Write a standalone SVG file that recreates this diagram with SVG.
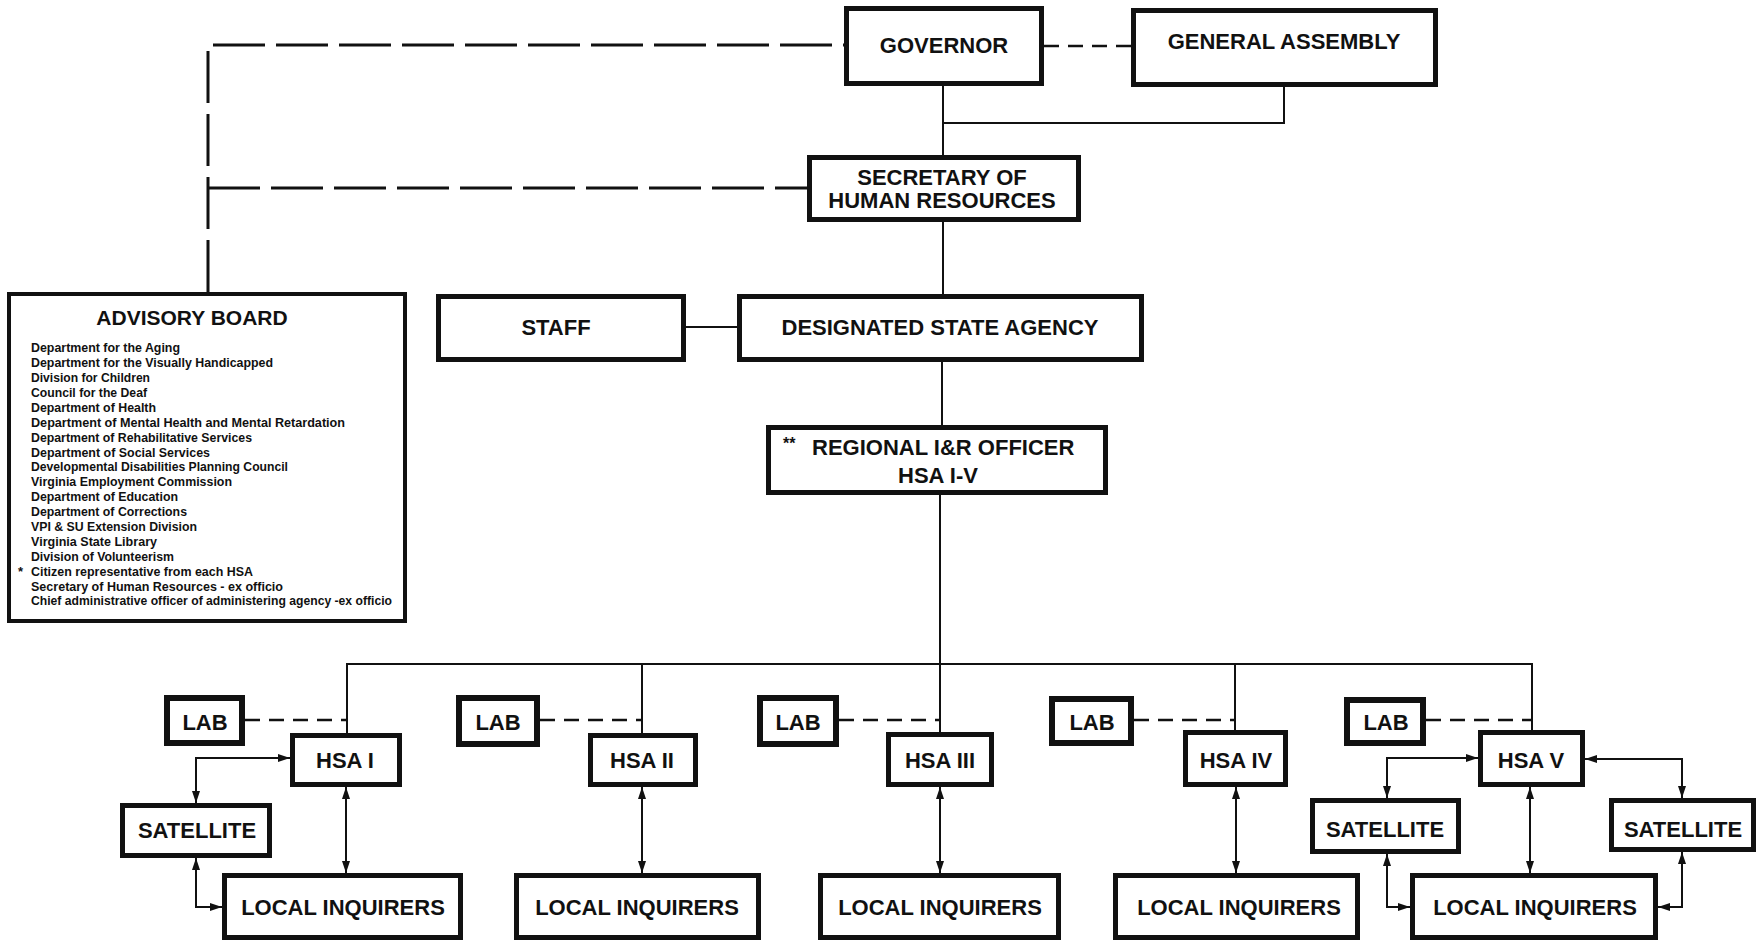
<svg xmlns="http://www.w3.org/2000/svg" width="1758" height="942" viewBox="0 0 1758 942">
<style>
.box{fill:#fff;stroke:#111;stroke-width:5}
.lab{fill:#fff;stroke:#111;stroke-width:6}
.t{font-family:"Liberation Sans",Arial,sans-serif;font-weight:bold;font-size:22px;fill:#111;text-anchor:middle}
.s{font-family:"Liberation Sans",Arial,sans-serif;font-weight:bold;font-size:13px;fill:#111}
.ln{fill:none;stroke:#111;stroke-width:2}
.dl{fill:none;stroke:#111;stroke-width:3;stroke-dasharray:52 11}
.ds{fill:none;stroke:#111;stroke-width:2.5;stroke-dasharray:15 9}
.ar{fill:none;stroke:#111;stroke-width:2;marker-start:url(#ah);marker-end:url(#ah)}
</style>
<defs>
<marker id="ah" viewBox="0 0 12 8" refX="12" refY="4" markerWidth="12" markerHeight="8" markerUnits="userSpaceOnUse" orient="auto-start-reverse">
<path d="M0,0 L12,4 L0,8 Z" fill="#111"/>
</marker>
</defs>
<rect width="1758" height="942" fill="#fff"/>

<g id="connectors">
<path class="dl" d="M208,292 V45 H844"/>
<path class="dl" d="M208,188 H807"/>
<path class="ds" d="M1044,46 H1131"/>
<path class="ln" d="M943,86 V155"/>
<path class="ln" d="M1284,87 V123 H943"/>
<path class="ln" d="M943,222 V294"/>
<path class="ln" d="M686,327 H737"/>
<path class="ln" d="M942,362 V425"/>
<path class="ln" d="M940,495 V664"/>
<path class="ln" d="M347,733 V664 H1532 V730"/>
<path class="ln" d="M642,664 V733"/>
<path class="ln" d="M940,664 V732"/>
<path class="ln" d="M1235,664 V730"/>
<path class="ds" d="M245,720 H347"/>
<path class="ds" d="M540,720 H642"/>
<path class="ds" d="M839,720 H940"/>
<path class="ds" d="M1134,720 H1235"/>
<path class="ds" d="M1426,720 H1532"/>
<path class="ar" d="M346,787 V873"/>
<path class="ar" d="M642,787 V873"/>
<path class="ar" d="M940,787 V873"/>
<path class="ar" d="M1236,787 V873"/>
<path class="ar" d="M1530,787 V873"/>
<path class="ar" d="M196,803 V758 H290"/>
<path class="ar" d="M196,858 V907 H222"/>
<path class="ar" d="M1387,798 V758 H1478"/>
<path class="ar" d="M1387,854 V907 H1410"/>
<path class="ar" d="M1682,798 V759 H1585"/>
<path class="ar" d="M1682,852 V907 H1658"/>
</g>

<g id="governor">
<rect class="box" x="846.5" y="8.5" width="195" height="75"/>
<text class="t" x="944" y="53">GOVERNOR</text>
</g>
<g id="general-assembly">
<rect class="box" x="1133.5" y="10.5" width="302" height="74"/>
<text class="t" x="1284" y="49">GENERAL ASSEMBLY</text>
</g>
<g id="secretary">
<rect class="box" x="809.5" y="157.5" width="269" height="62"/>
<text class="t" x="942" y="185">SECRETARY OF</text>
<text class="t" x="942" y="208">HUMAN RESOURCES</text>
</g>
<g id="staff">
<rect class="box" x="438.5" y="296.5" width="245" height="63"/>
<text class="t" x="556" y="335">STAFF</text>
</g>
<g id="dsa">
<rect class="box" x="739.5" y="296.5" width="402" height="63"/>
<text class="t" x="940" y="335">DESIGNATED STATE AGENCY</text>
</g>
<g id="regional">
<rect class="box" x="768.5" y="427.5" width="337" height="65"/>
<text class="t" x="783" y="455" style="text-anchor:start"><tspan font-size="16" dy="-6">**</tspan><tspan x="812" dy="6">REGIONAL I&amp;R OFFICER</tspan></text>
<text class="t" x="938" y="483">HSA I-V</text>
</g>
<g id="advisory-board">
<rect x="9" y="294" width="396" height="327" fill="#fff" stroke="#111" stroke-width="4"/>
<text class="t" x="192" y="325" style="font-size:21px">ADVISORY BOARD</text>
<text class="s" x="31" y="352" textLength="149" lengthAdjust="spacingAndGlyphs">Department for the Aging</text>
<text class="s" x="31" y="367" textLength="242" lengthAdjust="spacingAndGlyphs">Department for the Visually Handicapped</text>
<text class="s" x="31" y="382" textLength="119" lengthAdjust="spacingAndGlyphs">Division for Children</text>
<text class="s" x="31" y="397" textLength="116" lengthAdjust="spacingAndGlyphs">Council for the Deaf</text>
<text class="s" x="31" y="412" textLength="125" lengthAdjust="spacingAndGlyphs">Department of Health</text>
<text class="s" x="31" y="427" textLength="314" lengthAdjust="spacingAndGlyphs">Department of Mental Health and Mental Retardation</text>
<text class="s" x="31" y="442" textLength="221" lengthAdjust="spacingAndGlyphs">Department of Rehabilitative Services</text>
<text class="s" x="31" y="457" textLength="179" lengthAdjust="spacingAndGlyphs">Department of Social Services</text>
<text class="s" x="31" y="471" textLength="257" lengthAdjust="spacingAndGlyphs">Developmental Disabilities Planning Council</text>
<text class="s" x="31" y="486" textLength="201" lengthAdjust="spacingAndGlyphs">Virginia Employment Commission</text>
<text class="s" x="31" y="501" textLength="147" lengthAdjust="spacingAndGlyphs">Department of Education</text>
<text class="s" x="31" y="516" textLength="156" lengthAdjust="spacingAndGlyphs">Department of Corrections</text>
<text class="s" x="31" y="531" textLength="166" lengthAdjust="spacingAndGlyphs">VPI &amp; SU Extension Division</text>
<text class="s" x="31" y="546" textLength="126" lengthAdjust="spacingAndGlyphs">Virginia State Library</text>
<text class="s" x="31" y="561" textLength="143" lengthAdjust="spacingAndGlyphs">Division of Volunteerism</text>
<text class="s" x="18" y="576">*</text>
<text class="s" x="31" y="576" textLength="222" lengthAdjust="spacingAndGlyphs">Citizen representative from each HSA</text>
<text class="s" x="31" y="591" textLength="252" lengthAdjust="spacingAndGlyphs">Secretary of Human Resources - ex officio</text>
<text class="s" x="31" y="605" textLength="361" lengthAdjust="spacingAndGlyphs">Chief administrative officer of administering agency -ex officio</text>
</g>

<g id="lab-1"><rect class="lab" x="167" y="698" width="75" height="45"/><text class="t" x="205" y="730">LAB</text></g>
<g id="lab-2"><rect class="lab" x="459" y="698" width="78" height="46"/><text class="t" x="498" y="730">LAB</text></g>
<g id="lab-3"><rect class="lab" x="760" y="698" width="76" height="46"/><text class="t" x="798" y="730">LAB</text></g>
<g id="lab-4"><rect class="lab" x="1052" y="699" width="79" height="44"/><text class="t" x="1092" y="730">LAB</text></g>
<g id="lab-5"><rect class="lab" x="1347" y="700" width="76" height="43"/><text class="t" x="1386" y="730">LAB</text></g>

<g id="hsa-1"><rect class="box" x="292.5" y="735.5" width="107" height="49"/><text class="t" x="345" y="768">HSA I</text></g>
<g id="hsa-2"><rect class="box" x="590.5" y="735.5" width="105" height="49"/><text class="t" x="642" y="768">HSA II</text></g>
<g id="hsa-3"><rect class="box" x="888.5" y="734.5" width="103" height="50"/><text class="t" x="940" y="768">HSA III</text></g>
<g id="hsa-4"><rect class="box" x="1185.5" y="732.5" width="100" height="52"/><text class="t" x="1236" y="768">HSA IV</text></g>
<g id="hsa-5"><rect class="box" x="1480.5" y="732.5" width="102" height="52"/><text class="t" x="1531" y="768">HSA V</text></g>

<g id="satellite-1"><rect class="box" x="122.5" y="805.5" width="147" height="50"/><text class="t" x="197" y="838">SATELLITE</text></g>
<g id="satellite-5a"><rect class="box" x="1312.5" y="800.5" width="146" height="51"/><text class="t" x="1385" y="837">SATELLITE</text></g>
<g id="satellite-5b"><rect class="box" x="1611.5" y="800.5" width="142" height="49"/><text class="t" x="1683" y="837">SATELLITE</text></g>

<g id="local-1"><rect class="box" x="224.5" y="875.5" width="236" height="62"/><text class="t" x="343" y="915">LOCAL INQUIRERS</text></g>
<g id="local-2"><rect class="box" x="516.5" y="875.5" width="242" height="62"/><text class="t" x="637" y="915">LOCAL INQUIRERS</text></g>
<g id="local-3"><rect class="box" x="820.5" y="875.5" width="238" height="62"/><text class="t" x="940" y="915">LOCAL INQUIRERS</text></g>
<g id="local-4"><rect class="box" x="1115.5" y="875.5" width="242" height="62"/><text class="t" x="1239" y="915">LOCAL INQUIRERS</text></g>
<g id="local-5"><rect class="box" x="1412.5" y="875.5" width="243" height="62"/><text class="t" x="1535" y="915">LOCAL INQUIRERS</text></g>
</svg>
